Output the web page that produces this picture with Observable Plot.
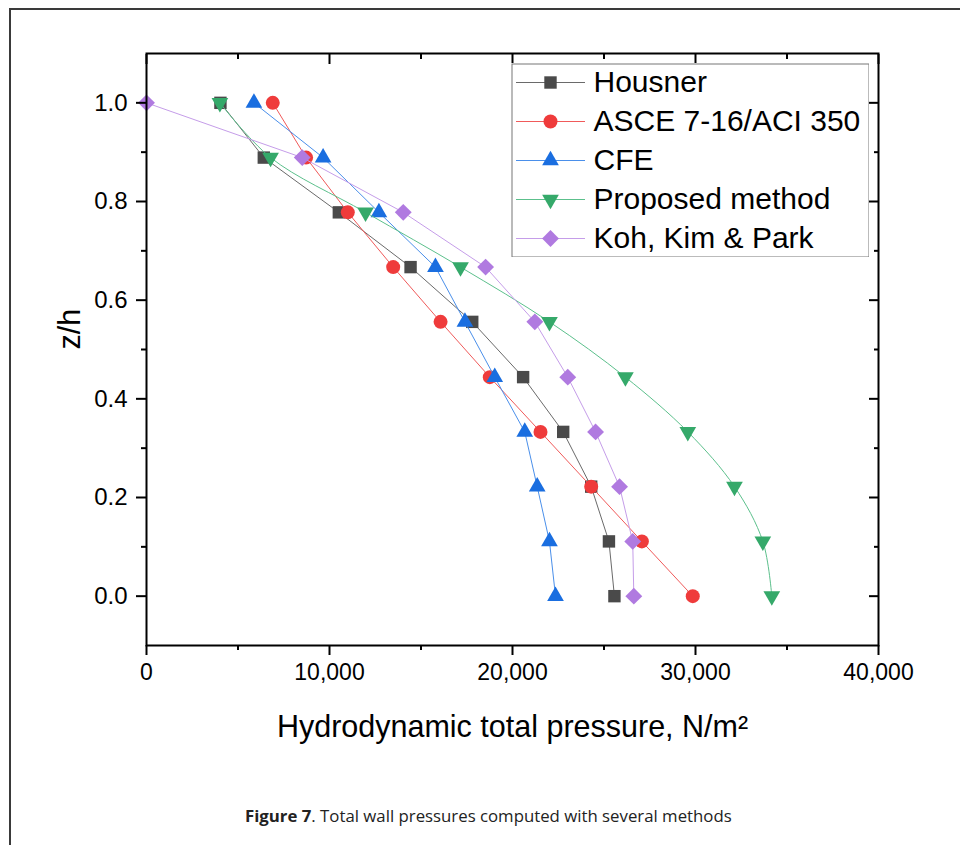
<!DOCTYPE html>
<html><head><meta charset="utf-8">
<script src="https://cdn.jsdelivr.net/npm/d3@7"></script>
<script src="https://cdn.jsdelivr.net/npm/@observablehq/plot@0.6"></script>
<style>
html,body{margin:0;padding:0;background:#fff;width:960px;height:845px;overflow:hidden;}
#frame{position:absolute;left:9px;top:8px;width:980px;height:860px;border-left:2px solid #3a3a3a;border-top:2px solid #3a3a3a;box-sizing:border-box;}
#chart{position:absolute;left:0;top:0;}
#legend{position:absolute;left:511px;top:63px;}
#caption{position:absolute;left:245px;top:804px;font-family:"Open Sans","Noto Sans",sans-serif;font-size:16.8px;color:#222;white-space:nowrap;}
</style></head><body>
<div id="frame"></div>
<div id="chart"></div>
<div id="legend"></div>
<div id="caption"><b>Figure 7</b>. Total wall pressures computed with several methods</div>
<script>
// ---- data ----
const zh = [1.0, 0.889, 0.778, 0.667, 0.556, 0.444, 0.333, 0.222, 0.111, 0.0];
const housner  = [4040, 6410, 10510, 14430, 17800, 20580, 22770, 24300, 25270, 25570];
const asce     = [6900, 8720, 11000, 13480, 16070, 18760, 21530, 24300, 27070, 29850];
const cfe      = [5870, 9650, 12700, 15790, 17400, 19030, 20670, 21350, 22020, 22350];
const proposed = [4010, 6780, 11970, 17160, 22020, 26170, 29580, 32130, 33680, 34170];
const koh      = [0, 8510, 14030, 18530, 21220, 23020, 24540, 25850, 26570, 26630];
const seriesNames = ["Housner", "ASCE 7-16/ACI 350", "CFE", "Proposed method", "Koh, Kim & Park"];
const seriesValues = [housner, asce, cfe, proposed, koh];
const xMajor = [0, 10000, 20000, 30000, 40000];
const xMinor = [5000, 15000, 25000, 35000];
const yMajor = [0, 0.2, 0.4, 0.6, 0.8, 1.0];
const yMinor = [0.1, 0.3, 0.5, 0.7, 0.9];
const xTitle = "Hydrodynamic total pressure, N/m\u00B2";
const yTitle = "z/h";

// ---- styles ----
const triangleDown = {
  draw(context, size) {
    const y = -Math.sqrt(size / (Math.sqrt(3) * 3));
    context.moveTo(0, -y * 2);
    context.lineTo(-Math.sqrt(3) * y, y);
    context.lineTo(Math.sqrt(3) * y, y);
    context.closePath();
  }
};
const seriesStyle = [
  {symbol: "square",   r: 7,   fill: "#4a4a4a", line: "#6a6a6a", curve: "linear"},
  {symbol: "circle",   r: 7,   fill: "#ef3b3b", line: "#f05a5a", curve: "linear"},
  {symbol: "triangle", r: 6.2, fill: "#1a6ee0", line: "#4a8fea", curve: "linear"},
  {symbol: triangleDown, r: 6.2, fill: "#35a96a", line: "#5cc08c", curve: "catmull-rom"},
  {symbol: "diamond2", r: 7.6, fill: "#b07ae0", line: "#c59de9", curve: "linear"}
];

const rows = seriesNames.flatMap((name, k) =>
  seriesValues[k].map((p, i) => ({series: name, p, z: zh[i]})));

const seriesMarks = seriesNames.flatMap((name, k) => {
  const s = seriesStyle[k];
  const d = rows.filter(r => r.series === name);
  return [
    Plot.line(d, {x: "p", y: "z", stroke: s.line, strokeWidth: 1, curve: s.curve}),
    Plot.dot(d, {x: "p", y: "z", symbol: s.symbol, r: s.r, fill: s.fill, stroke: "none"})
  ];
});

const font = "'Liberation Sans', Arial, sans-serif";

const chart = Plot.plot({
  width: 960, height: 790,
  marginLeft: 146, marginRight: 82, marginTop: 53, marginBottom: 145,
  x: {domain: [0, 40000]},
  y: {domain: [-0.1, 1.1]},
  style: {fontFamily: font, fontSize: "23px", color: "#000", background: "transparent"},
  marks: [
    ...seriesMarks,
    Plot.frame({stroke: "#000", strokeWidth: 2}),
    Plot.axisX({anchor: "bottom", ticks: xMajor, tickSize: 10, tickPadding: 8, strokeWidth: 2, tickFormat: d3.format(","), label: null}),
    Plot.axisX({anchor: "bottom", ticks: xMinor, tickSize: 5, strokeWidth: 2, tickFormat: () => "", label: null}),
    Plot.axisX({anchor: "top", ticks: xMajor, tickSize: -10, strokeWidth: 2, tickFormat: () => "", label: null}),
    Plot.axisX({anchor: "top", ticks: xMinor, tickSize: -5, strokeWidth: 2, tickFormat: () => "", label: null}),
    Plot.axisY({anchor: "left", ticks: yMajor, tickSize: 10, tickPadding: 9, strokeWidth: 2, fontSize: 24, tickFormat: d3.format(".1f"), label: null}),
    Plot.axisY({anchor: "left", ticks: yMinor, tickSize: 5, strokeWidth: 2, tickFormat: () => "", label: null}),
    Plot.axisY({anchor: "right", ticks: yMajor, tickSize: -10, strokeWidth: 2, tickFormat: () => "", label: null}),
    Plot.axisY({anchor: "right", ticks: yMinor, tickSize: -5, strokeWidth: 2, tickFormat: () => "", label: null}),
    Plot.text([xTitle], {frameAnchor: "bottom", dy: 91, lineAnchor: "bottom", fontSize: 30.5, fill: "#000"}),
    Plot.text([yTitle], {frameAnchor: "left", dx: -76, rotate: -90, fontSize: 30.5, fill: "#000"})
  ]
});
document.getElementById("chart").appendChild(chart);

// ---- legend ----
const legendRows = seriesNames.map((name, k) => ({name, k}));
const legendMarks = legendRows.flatMap(({name, k}) => {
  const s = seriesStyle[k];
  return [
    Plot.ruleY([name], {y: d => d, x1: 5, x2: 74, stroke: s.line, strokeWidth: 1}),
    Plot.dot([name], {y: d => d, x: 39, symbol: s.symbol, r: s.r, fill: s.fill, stroke: "none"})
  ];
});
const legend = Plot.plot({
  width: 358, height: 194,
  margin: 0,
  x: {domain: [0, 358], range: [0, 358]},
  y: {type: "point", domain: seriesNames, range: [19, 175], padding: 0},
  style: {fontFamily: font, background: "#fff", color: "#000"},
  axis: null,
  marks: [
    Plot.frame({stroke: "#777", strokeWidth: 1, inset: 0.5}),
    ...legendMarks,
    Plot.text(seriesNames, {x: 82, y: d => d, text: d => d, textAnchor: "start", fontSize: 30, fill: "#000"})
  ]
});
document.getElementById("legend").appendChild(legend);
</script>
</body></html>
